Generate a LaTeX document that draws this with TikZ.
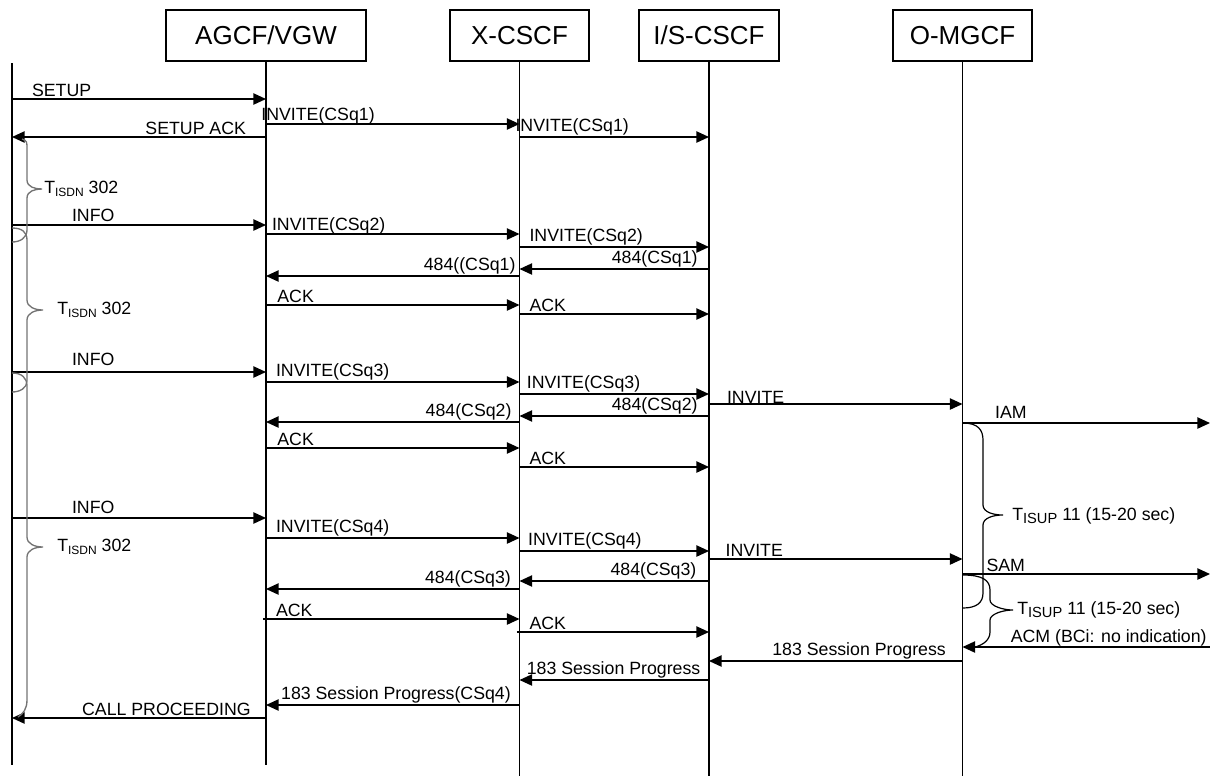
\documentclass[tikz,border=0pt]{standalone}
\usepackage{fontspec}
\setmainfont{Liberation Sans}
\usetikzlibrary{arrows.meta,positioning}

% timer name with lowered small index
\newcommand{\timersub}[2]{T\raisebox{-0.35ex}{\fontsize{#1}{#1}\selectfont #2}}

\begin{document}
\begin{tikzpicture}[
  x=0.75pt,y=-0.75pt,
  font=\fontsize{13.3}{15}\selectfont,
  entity/.style={draw,line width=1.2pt,minimum height=38.25pt,inner sep=0pt,
    font=\fontsize{19.5}{22}\selectfont},
  life/.style={line width=1pt},
  msg/.style={-{Triangle[length=9.5pt,width=8.5pt]},line width=1.05pt},
  lbl/.style={inner sep=1pt,anchor=south west},
  lbr/.style={inner sep=1pt,anchor=south east},
  isdn/.style={line width=1pt,black!55},
  isup/.style={line width=0.9pt},
  timer/.style={inner sep=0pt,anchor=west}
]
\useasboundingbox (0,0) rectangle (1210,776);

% entities
\node[entity,minimum width=150pt] (agcf) at (266,35.5) {AGCF/VGW};
\node[entity,minimum width=104.25pt] (xcscf) at (519.5,35.5) {X-CSCF};
\node[entity,minimum width=105pt] (iscscf) at (709,35.5) {I/S-CSCF};
\node[entity,minimum width=104.25pt] (omgcf) at (962.5,35.5) {O-MGCF};
\coordinate (user) at (12,63);
\coordinate (pstn) at (1210,63);

% lifelines
\draw[life] (user) -- (user |- 0,765);
\draw[life] (agcf.south) -- (agcf.south |- 0,765);
\draw[life] (xcscf.south) -- (xcscf.south |- 0,776);
\draw[life] (iscscf.south) -- (iscscf.south |- 0,776);
\draw[life] (omgcf.south) -- (omgcf.south |- 0,776);

% first attempt
\draw[msg] (user |- 0,99) -- (agcf |- 0,99) node[lbl,pos=0,xshift=13.5pt] {SETUP};
\draw[msg] (agcf |- 0,124) -- (xcscf |- 0,124) node[lbl,pos=0,xshift=-5pt,yshift=-2pt] {INVITE(CSq1)};
\draw[msg] (agcf |- 0,137) -- (user |- 0,137) node[lbr,pos=0,xshift=-13.5pt] {SETUP ACK};
\draw[msg] (xcscf |- 0,137) -- (iscscf |- 0,137) node[lbl,pos=0,xshift=-4.5pt] {INVITE(CSq1)};

% second attempt
\draw[msg] (user |- 0,225) -- (agcf |- 0,225) node[lbl,pos=0,xshift=43.5pt,yshift=1pt] {INFO};
\draw[msg] (agcf |- 0,234) -- (xcscf |- 0,234) node[lbl,pos=0,xshift=3pt,yshift=-2pt] {INVITE(CSq2)};
\draw[msg] (xcscf |- 0,247) -- (iscscf |- 0,247) node[lbl,pos=0,xshift=6pt] {INVITE(CSq2)};
\draw[msg] (iscscf |- 0,269) -- (xcscf |- 0,269) node[lbr,pos=0,xshift=-7pt] {484(CSq1)};
\draw[msg] (xcscf |- 0,276) -- (agcf |- 0,276) node[lbr,pos=0,xshift=-1.5pt] {484((CSq1)};
\draw[msg] (agcf |- 0,305) -- (xcscf |- 0,305) node[lbl,pos=0,xshift=7pt] {ACK};
\draw[msg] (xcscf |- 0,314) -- (iscscf |- 0,314) node[lbl,pos=0,xshift=6pt] {ACK};

% third attempt
\draw[msg] (user |- 0,372) -- (agcf |- 0,372) node[lbl,pos=0,xshift=43.5pt,yshift=3pt] {INFO};
\draw[msg] (agcf |- 0,382) -- (xcscf |- 0,382) node[lbl,pos=0,xshift=6pt] {INVITE(CSq3)};
\draw[msg] (xcscf |- 0,394) -- (iscscf |- 0,394) node[lbl,pos=0,xshift=4pt] {INVITE(CSq3)};
\draw[msg] (iscscf |- 0,404) -- (omgcf |- 0,404) node[lbl,pos=0,xshift=12pt,yshift=-1pt] {INVITE};
\draw[msg] (iscscf |- 0,416) -- (xcscf |- 0,416) node[lbr,pos=0,xshift=-7pt] {484(CSq2)};
\draw[msg] (xcscf |- 0,422) -- (agcf |- 0,422) node[lbr,pos=0,xshift=-4.5pt] {484(CSq2)};
\draw[msg] (omgcf |- 0,423) -- (pstn |- 0,423) node[lbl,pos=0,xshift=23pt,yshift=1.5pt] {IAM};
\draw[msg] (agcf |- 0,448) -- (xcscf |- 0,448) node[lbl,pos=0,xshift=7pt] {ACK};
\draw[msg] (xcscf |- 0,467) -- (iscscf |- 0,467) node[lbl,pos=0,xshift=6pt] {ACK};

% fourth attempt
\draw[msg] (user |- 0,518) -- (agcf |- 0,518) node[lbl,pos=0,xshift=43.5pt,yshift=2pt] {INFO};
\draw[msg] (agcf |- 0,538) -- (xcscf |- 0,538) node[lbl,pos=0,xshift=6pt] {INVITE(CSq4)};
\draw[msg] (xcscf |- 0,551) -- (iscscf |- 0,551) node[lbl,pos=0,xshift=5pt] {INVITE(CSq4)};
\draw[msg] (iscscf |- 0,559) -- (omgcf |- 0,559) node[lbl,pos=0,xshift=11pt] {INVITE};
\draw[msg] (omgcf |- 0,574) -- (pstn |- 0,574) node[lbl,pos=0,xshift=16.5pt] {SAM};
\draw[msg] (iscscf |- 0,581) -- (xcscf |- 0,581) node[lbr,pos=0,xshift=-8pt] {484(CSq3)};
\draw[msg] (xcscf |- 0,589) -- (agcf |- 0,589) node[lbr,pos=0,xshift=-5pt] {484(CSq3)};
\draw[msg] ([xshift=-2pt]agcf |- 0,619) -- (xcscf |- 0,619) node[lbl,pos=0,xshift=8pt] {ACK};
\draw[msg] ([xshift=-2pt]xcscf |- 0,632) -- (iscscf |- 0,632) node[lbl,pos=0,xshift=8pt] {ACK};

% answer path
\draw[msg] (pstn |- 0,647) -- (omgcf |- 0,647) node[lbr,pos=0,xshift=-1pt,yshift=-1pt] {ACM (BCi: no indication)};
\draw[msg] (omgcf |- 0,661) -- (iscscf |- 0,661) node[lbr,pos=0,xshift=-11pt] {183 Session Progress};
\draw[msg] (iscscf |- 0,680) -- (xcscf |- 0,680) node[lbr,pos=0,xshift=-5pt] {183 Session Progress};
\draw[msg] (xcscf |- 0,705) -- (agcf |- 0,705) node[lbr,pos=0,xshift=-5pt] {183 Session Progress(CSq4)};
\draw[msg] (agcf |- 0,718) -- (user |- 0,718) node[lbr,pos=0,xshift=-10pt] {CALL PROCEEDING};

% ISDN timers
\draw[isdn] (22,139) .. controls (27,141) .. (27,150) -- (27,180)
  .. controls (27,187) and (35,189) .. (42,189) .. controls (35,189) and (27,191) .. (27,198)
  -- (27,230) .. controls (27,238) and (20,242) .. (12,242);
\draw[isdn] (12,228) .. controls (22,228) and (27,232) .. (27,240) -- (27,300)
  .. controls (27,307) and (35,310) .. (43,310) .. controls (35,310) and (27,313) .. (27,320)
  -- (27,381) .. controls (27,388) and (20,392) .. (12,392);
\draw[isdn] (12,373) .. controls (22,373) and (27,378) .. (27,386) -- (27,537)
  .. controls (27,544) and (35,547) .. (43,547) .. controls (35,547) and (27,550) .. (27,557)
  -- (27,700) .. controls (27,709) and (23,714) .. (18,717);
\node[timer] (tisdna) at (44,189) {\timersub{9}{ISDN} 302};
\node[timer] (tisdnb) at (57,310) {\timersub{9}{ISDN} 302};
\node[timer] (tisdnc) at (57,547) {\timersub{9}{ISDN} 302};

% ISUP timers
\draw[isup] (963,423) .. controls (978,423) and (983,430) .. (983,440) -- (983,505)
  .. controls (983,512) and (993,515) .. (1003,515) .. controls (993,515) and (983,518) .. (983,525)
  -- (983,593) .. controls (983,603) and (976,608) .. (963,608);
\draw[isup] (963,575) .. controls (982,575) and (990,580) .. (990,590) -- (990,600)
  .. controls (990,606) and (1003,610) .. (1013,610) .. controls (1003,610) and (990,614) .. (990,620)
  -- (990,632) .. controls (990,640) and (983,645) .. (975,647);
\node[timer] (tisupa) at (1012,516) {\timersub{11}{ISUP} 11 (15-20 sec)};
\node[timer] (tisupb) at (1017,610) {\timersub{11}{ISUP} 11 (15-20 sec)};
\end{tikzpicture}
\end{document}
